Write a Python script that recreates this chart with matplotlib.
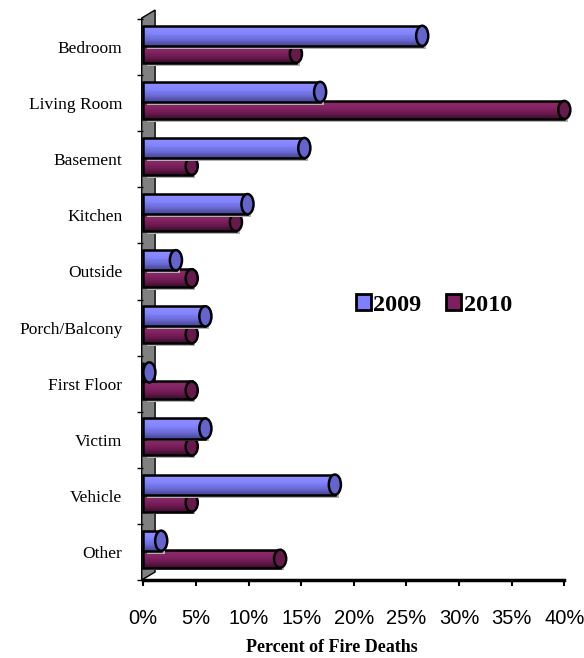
import numpy as np
import matplotlib
matplotlib.use("Agg")
import matplotlib.pyplot as plt
from matplotlib.colors import LinearSegmentedColormap
from matplotlib.patches import Ellipse, Polygon, Patch

# Data (percent of fire deaths)
categories = ["Bedroom", "Living Room", "Basement", "Kitchen", "Outside",
              "Porch/Balcony", "First Floor", "Victim", "Vehicle", "Other"]
pct_2009 = [26.5, 16.8, 15.3, 9.9, 3.1, 5.9, 0.0, 5.9, 18.2, 1.7]
pct_2010 = [14.5, 40.0, 4.6, 8.8, 4.6, 4.6, 4.6, 4.6, 4.6, 13.0]
x_ticks = [0, 5, 10, 15, 20, 25, 30, 35, 40]
x_tick_labels = [f"{t}%" for t in x_ticks]

BLUE_CMAP = LinearSegmentedColormap.from_list(
    "blue_cyl", [(0.0, "#44448e"), (0.3, "#6a6ad6"), (0.6, "#8383fc"),
                 (0.85, "#8d8dff"), (1.0, "#7676ea")])
MAROON_CMAP = LinearSegmentedColormap.from_list(
    "maroon_cyl", [(0.0, "#380d2a"), (0.3, "#68194e"), (0.6, "#832262"),
                   (0.85, "#8b2a69"), (1.0, "#781d58")])

fig = plt.figure(figsize=(5.84, 6.58), dpi=100)
ax = fig.add_axes([143.3 / 584, 78 / 658, 421 / 584, 561 / 658])

n = len(categories)
ys = np.arange(n)[::-1]
grad = np.linspace(0, 1, 64).reshape(-1, 1)
cap_w = 1.15


def draw_cylinders(values, offset, height, cmap, cap_color, z):
    # faint drop shadow
    ax.barh(ys + offset - 0.05, values, left=0.35, height=height,
            color="#b0b0b0", linewidth=0, zorder=z - 1, clip_on=False)
    bars = ax.barh(ys + offset, values, height=height, facecolor="none",
                   edgecolor="black", linewidth=1.8, zorder=z, clip_on=False)
    for bar in bars:
        x0, y0 = bar.get_x(), bar.get_y()
        w, h = bar.get_width(), bar.get_height()
        if w > 0:
            im = ax.imshow(grad, extent=[x0, x0 + w, y0, y0 + h], origin="lower",
                           cmap=cmap, aspect="auto", zorder=z - 0.5)
            im.set_clip_path(bar)
        cx = x0 + max(w, cap_w / 2)
        ax.add_patch(Ellipse((cx, y0 + h / 2), width=cap_w, height=h,
                             facecolor=cap_color, edgecolor="black",
                             linewidth=1.8, zorder=z + 0.1, clip_on=False))


draw_cylinders(pct_2010, -0.12, 0.32, MAROON_CMAP, "#661a4c", 4)
draw_cylinders(pct_2009, 0.2, 0.36, BLUE_CMAP, "#6464cc", 6)

# grey back wall
wall = Polygon([(-0.15, -0.5), (1.12, -0.357), (1.12, 9.66), (-0.15, 9.518)],
               closed=True, facecolor="#808080", edgecolor="black",
               linewidth=1, zorder=1, clip_on=False)
ax.add_patch(wall)

ax.set_xlim(0, 40)
ax.set_ylim(-0.5, n - 0.5)
ax.set_aspect("auto")

for side in ["top", "right"]:
    ax.spines[side].set_visible(False)
ax.spines["left"].set_visible(False)
ax.spines["bottom"].set_linewidth(2.5)
ax.spines["bottom"].set_zorder(8)

ax.set_xticks(x_ticks)
ax.set_xticklabels(x_tick_labels, fontfamily="Liberation Sans", fontsize=14.5)
ax.tick_params(axis="x", direction="out", length=4, width=1.5, pad=17)

ax.set_yticks(ys)
ax.set_yticklabels(categories, fontfamily="Liberation Serif", fontsize=12.5)
ax.set_yticks(np.arange(-0.5, n, 1.0), minor=True)
ax.tick_params(axis="y", which="major", length=0, pad=15)
ax.tick_params(axis="y", which="minor", direction="out", length=4, width=1)

fig.text(331.7 / 584, 1 - 647 / 658, "Percent of Fire Deaths",
         family="Liberation Serif", weight="bold", fontsize=13,
         ha="center", va="center")

handles = [Patch(facecolor="#8080ff", edgecolor="black", linewidth=2, label="2009"),
           Patch(facecolor="#801f60", edgecolor="black", linewidth=2, label="2010")]
fig.legend(handles=handles, loc="center left",
           bbox_to_anchor=(356 / 584, 1 - 305 / 658), ncol=2, frameon=False,
           prop={"family": "Liberation Serif", "weight": "bold", "size": 17.5},
           handlelength=0.6, handleheight=0.6, handletextpad=0.12,
           columnspacing=1.0, borderpad=0, borderaxespad=0)

fig.savefig("out.png", dpi=100)
